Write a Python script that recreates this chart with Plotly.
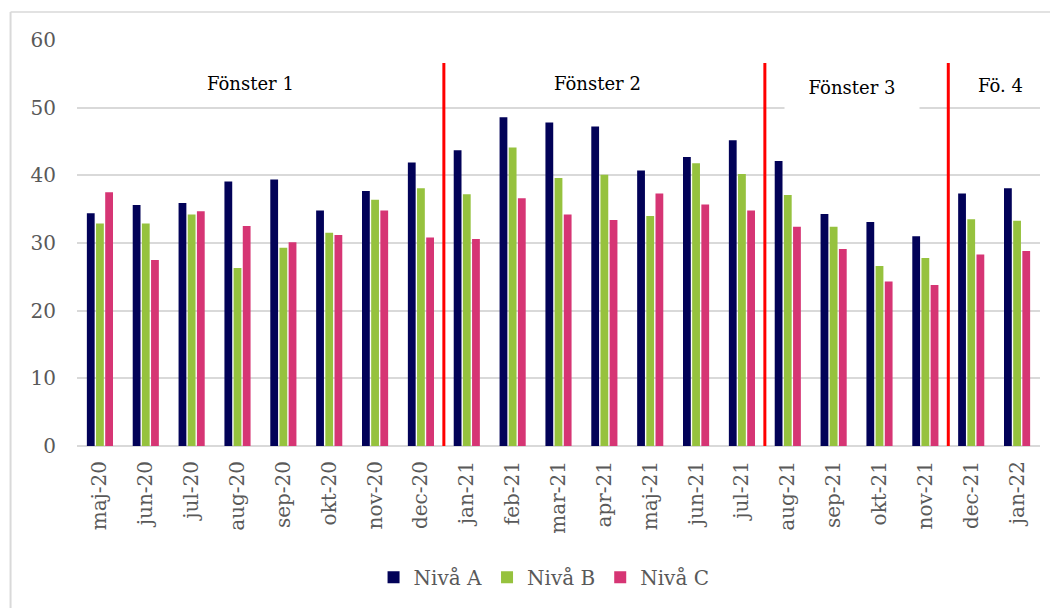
import plotly.graph_objects as go

months = ["maj-20", "jun-20", "jul-20", "aug-20", "sep-20", "okt-20", "nov-20", "dec-20",
          "jan-21", "feb-21", "mar-21", "apr-21", "maj-21", "jun-21", "jul-21", "aug-21",
          "sep-21", "okt-21", "nov-21", "dec-21", "jan-22"]
niva_a = [34.4, 35.6, 35.9, 39.1, 39.4, 34.8, 37.7, 41.9, 43.7, 48.6, 47.8, 47.2, 40.7,
          42.7, 45.2, 42.1, 34.3, 33.1, 31.0, 37.3, 38.1]
niva_b = [32.9, 32.9, 34.2, 26.3, 29.3, 31.5, 36.4, 38.1, 37.2, 44.1, 39.6, 40.1, 34.0,
          41.8, 40.2, 37.1, 32.4, 26.6, 27.8, 33.5, 33.3]
niva_c = [37.5, 27.5, 34.7, 32.5, 30.1, 31.2, 34.8, 30.8, 30.6, 36.6, 34.2, 33.4, 37.3,
          35.7, 34.8, 32.4, 29.1, 24.3, 23.8, 28.3, 28.8]
series_names = ["Nivå A", "Nivå B", "Nivå C"]
series_colors = ["#020258", "#96C23E", "#D63574"]

window_labels = ["Fönster 1", "Fönster 2", "Fönster 3", "Fö. 4"]
window_label_x = [3.29, 10.84, 16.4, 19.63]
window_label_y = [53.6, 53.6, 53.0, 53.3]
divider_x = [7.5, 14.5, 18.5]
divider_top = 56.6

FONT = "DejaVu Serif"

fig = go.Figure()
for name, vals, col in zip(series_names, [niva_a, niva_b, niva_c], series_colors):
    fig.add_trace(go.Bar(x=months, y=vals, name=name, marker=dict(color=col, line=dict(width=0))))

shapes = []
for xv in divider_x:
    shapes.append(dict(type="line", xref="x", yref="y", x0=xv, x1=xv, y0=-0.3, y1=divider_top,
                       line=dict(color="#FF0000", width=3)))
# outer frame (left and top edges)
shapes.append(dict(type="line", xref="paper", yref="paper", x0=-0.069, x1=-0.069, y0=1.069, y1=-0.45,
                   line=dict(color="#D9D9D9", width=2)))
shapes.append(dict(type="line", xref="paper", yref="paper", x0=-0.069, x1=1.03, y0=1.069, y1=1.069,
                   line=dict(color="#D9D9D9", width=1.5)))

annotations = []
for t, xv, yv in zip(window_labels, window_label_x, window_label_y):
    a = dict(text=t, x=xv, y=yv, xref="x", yref="y", showarrow=False,
             xanchor="center", yanchor="middle",
             font=dict(family=FONT, size=18, color="#000000"))
    if t == "Fönster 3":
        a.update(bgcolor="#FFFFFF", width=132, height=44)
    annotations.append(a)

fig.update_layout(
    width=1058, height=608,
    margin=dict(l=69, r=26, t=32, b=170),
    paper_bgcolor="#FFFFFF", plot_bgcolor="#FFFFFF",
    barmode="group", bargap=0.4, bargroupgap=0.15,
    font=dict(family=FONT, color="#595959"),
    shapes=shapes,
    annotations=annotations,
    legend=dict(orientation="h", x=0.485, xanchor="center", y=-0.323, yanchor="middle",
                font=dict(family=FONT, size=20, color="#595959"), itemwidth=30,
                traceorder="normal"),
    xaxis=dict(tickangle=-90, tickfont=dict(family=FONT, size=20, color="#595959"),
               showgrid=False, showline=False, ticks="", ticklabelstandoff=10,
               range=[-0.5, len(months) - 0.5], automargin=False),
    yaxis=dict(range=[0, 60], dtick=10, tickfont=dict(family=FONT, size=20, color="#595959"),
               gridcolor="#D9D9D9", gridwidth=2, zeroline=True, zerolinecolor="#D9D9D9",
               zerolinewidth=2, showline=False, ticks="", ticklabelstandoff=20, automargin=False),
)

fig.write_html("out.html")
